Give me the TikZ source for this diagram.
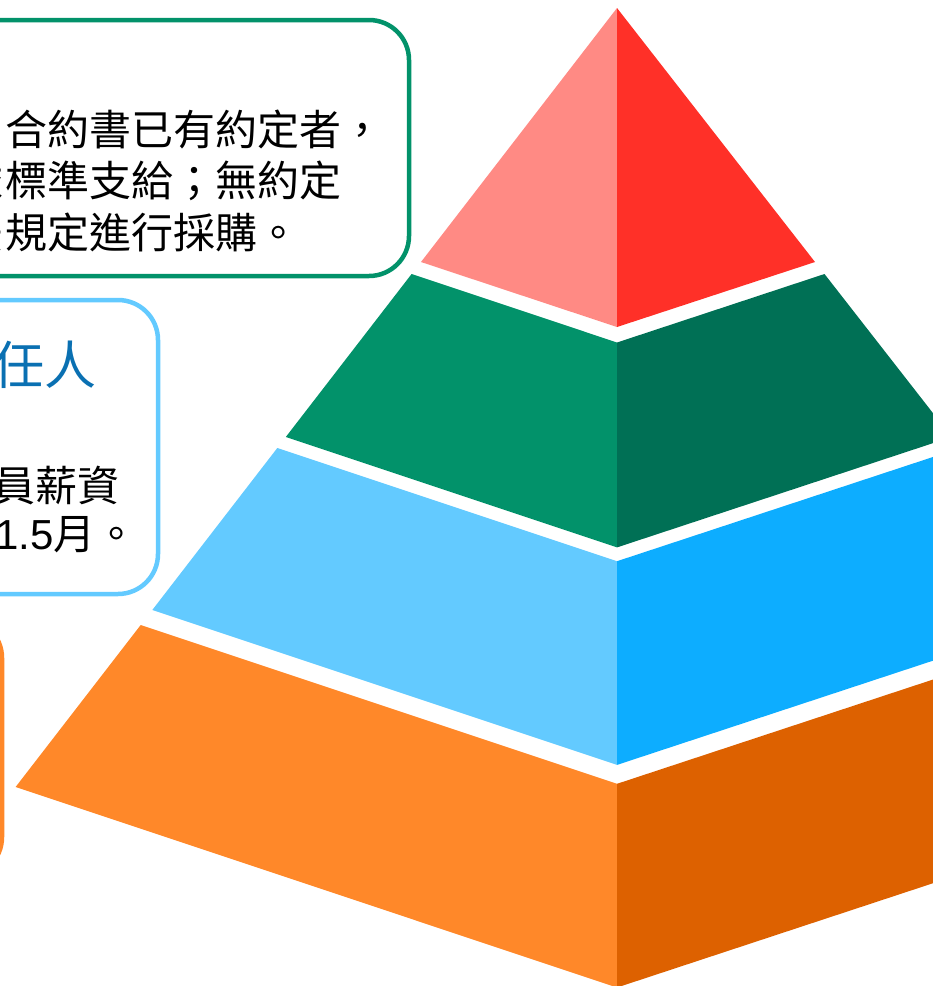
\documentclass[tikz,border=0pt]{standalone}
\usepackage{fontspec}
\newfontfamily\cjk{Noto Sans CJK TC}
\newfontfamily\arialf{Liberation Sans}
\definecolor{redL}{HTML}{FF8A84}
\definecolor{redR}{HTML}{FF3028}
\definecolor{grnL}{HTML}{02926A}
\definecolor{grnR}{HTML}{007055}
\definecolor{bluL}{HTML}{63CAFF}
\definecolor{bluR}{HTML}{0DADFF}
\definecolor{orgL}{HTML}{FF8829}
\definecolor{orgR}{HTML}{DD6100}
\definecolor{headblue}{HTML}{0A70B2}
\tikzset{
  callout/.style={line width=4.5pt, fill=white, rounded corners=40pt},
  bodytxt/.style={anchor=base west, inner sep=0pt, font=\cjk\fontsize{42}{42}\selectfont, text=black},
  headtxt/.style={anchor=base west, inner sep=0pt, font=\cjk\fontsize{52}{52}\selectfont, text=headblue},
}
\begin{document}
\begin{tikzpicture}[x=1pt,y=-1pt]
\useasboundingbox (0,0) rectangle (933,986);
\begin{scope}
\clip (0,0) rectangle (933,986);
% callout boxes
\draw[callout, draw=grnL] (-200,20) rectangle (409,276);
\draw[callout, draw=bluL] (-200,300) rectangle (158,594);
\draw[callout, draw=orgL] (-300,618) rectangle (2,877);
% texts box 1
\node[bodytxt] (t1) at (5,145) {合約書已有約定者，};
\node[bodytxt] (t2p) at (-38.5,196) {依};
\node[bodytxt] (t2) at (5,196) {標準支給；無約定};
\node[bodytxt] (t3p) at (-38.5,248) {法};
\node[bodytxt] (t3) at (5,248) {規定進行採購。};
% texts box 2
\node[headtxt] (h2) at (-8,384) {任人};
\node[bodytxt] (t4) at (-7,501) {員薪資};
\node[bodytxt] (t5) at (-5,549) {{\arialf 1.5}月。};
% pyramid: top
\fill[redL] (617,8) -- (421,262) -- (617,327) -- cycle;
\fill[redR] (617,8) -- (815,262) -- (617,327) -- cycle;
% green
\fill[grnL] (411.6,274) -- (617,342.5) -- (617,547.4) -- (285.8,437) -- cycle;
\fill[grnR] (617,342.5) -- (824.5,274) -- (951.6,437) -- (617,547.4) -- cycle;
% blue
\fill[bluL] (277.3,448) -- (617,561.2) -- (617,764.9) -- (152.3,610) -- cycle;
\fill[bluR] (617,561.2) -- (960.2,448) -- (1086.6,610) -- (617,764.9) -- cycle;
% orange
\fill[orgL] (140.7,625) -- (617,783.8) -- (617,987.5) -- (15.6,787) -- cycle;
\fill[orgR] (617,783.8) -- (1098.3,625) -- (1224.6,787) -- (617,987.5) -- cycle;
\end{scope}
\end{tikzpicture}
\end{document}
